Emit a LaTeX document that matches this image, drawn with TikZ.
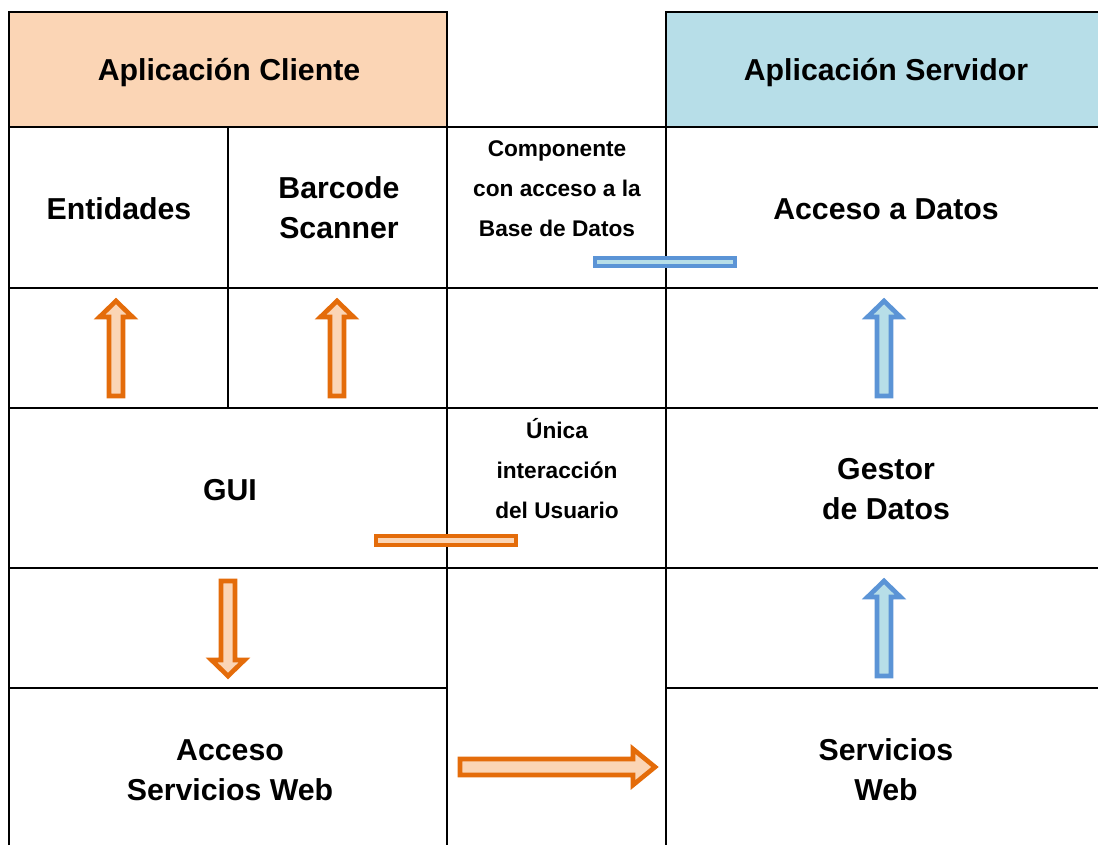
\documentclass[tikz,border=0pt]{standalone}
\usepackage{fontspec}
\setmainfont{Liberation Sans}
\usepackage{xcolor}

\definecolor{naranja}{RGB}{228,108,10}
\definecolor{naranjaclaro}{RGB}{251,213,181}
\definecolor{azul}{RGB}{91,148,214}
\definecolor{azulclaro}{RGB}{183,222,232}

\begin{document}
\begin{tikzpicture}[x=0.75pt, y=-0.75pt,
    rejilla/.style={black, line width=2.2pt},
    titulo/.style={font=\fontsize{22.7}{30}\selectfont\bfseries, align=center},
    nota/.style={font=\fontsize{17}{30}\selectfont\bfseries, align=center},
    flechaN/.style={draw=naranja, fill=naranjaclaro, line width=3.5pt},
    flechaA/.style={draw=azul, fill=azulclaro, line width=3.5pt}]
  \useasboundingbox (0,0) rectangle (1098,845);

  % cabeceras
  \fill[naranjaclaro] (9,12) rectangle (447,127);
  \fill[azulclaro] (666,12) rectangle (1098,127);

  % rejilla
  \draw[rejilla] (9,845) -- (9,12) -- (447,12) -- (447,845);
  \draw[rejilla] (1098,12) -- (666,12) -- (666,845);
  \foreach \y in {127,288,408,568} {
    \draw[rejilla] (9,\y) -- (1098,\y);
  }
  \draw[rejilla] (9,688) -- (447,688);
  \draw[rejilla] (666,688) -- (1098,688);
  \draw[rejilla] (228,127) -- (228,408);

  % textos
  \node[titulo] (cliente) at (229,73) {Aplicación Cliente};
  \node[titulo] (servidor) at (886,73) {Aplicación Servidor};
  \node[titulo] (entidades) at (119,209) {Entidades};
  \node[titulo] (barcode) at (339,208) {Barcode\\Scanner};
  \node[titulo] (accesodatos) at (886,209) {Acceso a Datos};
  \node[titulo] (gui) at (230,490) {GUI};
  \node[titulo] (gestor) at (886,489) {Gestor\\de Datos};
  \node[titulo] (accesows) at (230,770) {Acceso\\Servicios Web};
  \node[titulo] (serviciosweb) at (886,770) {Servicios\\Web};
  \node[nota] (componente) at (557,189) {Componente\\con acceso a la\\Base de Datos};
  \node[nota] (unica) at (557,469) {Única\\interacción\\del Usuario};

  % barras
  \draw[flechaA] (595,258) rectangle (735,266);
  \draw[flechaN] (376,536) rectangle (516,545);

  % flechas hacia arriba
  \foreach \x/\yb/\estilo in {116/396/flechaN, 337/396/flechaN,
                              884/396/flechaA, 884/676/flechaA} {
    \draw[\estilo] (\x-7,\yb) -- ++(0,-79) -- ++(-9.5,0) -- ++(16.5,-16)
      -- ++(16.5,16) -- ++(-9.5,0) -- ++(0,79) -- cycle;
  }

  % flecha hacia abajo
  \draw[flechaN] (221,581) -- ++(0,79) -- ++(-9.5,0) -- ++(16.5,16)
    -- ++(16.5,-16) -- ++(-9.5,0) -- ++(0,-79) -- cycle;

  % flecha horizontal
  \draw[flechaN] (460,759) -- ++(173,0) -- ++(0,-10) -- ++(22,18)
    -- ++(-22,18) -- ++(0,-10) -- ++(-173,0) -- cycle;
\end{tikzpicture}
\end{document}
